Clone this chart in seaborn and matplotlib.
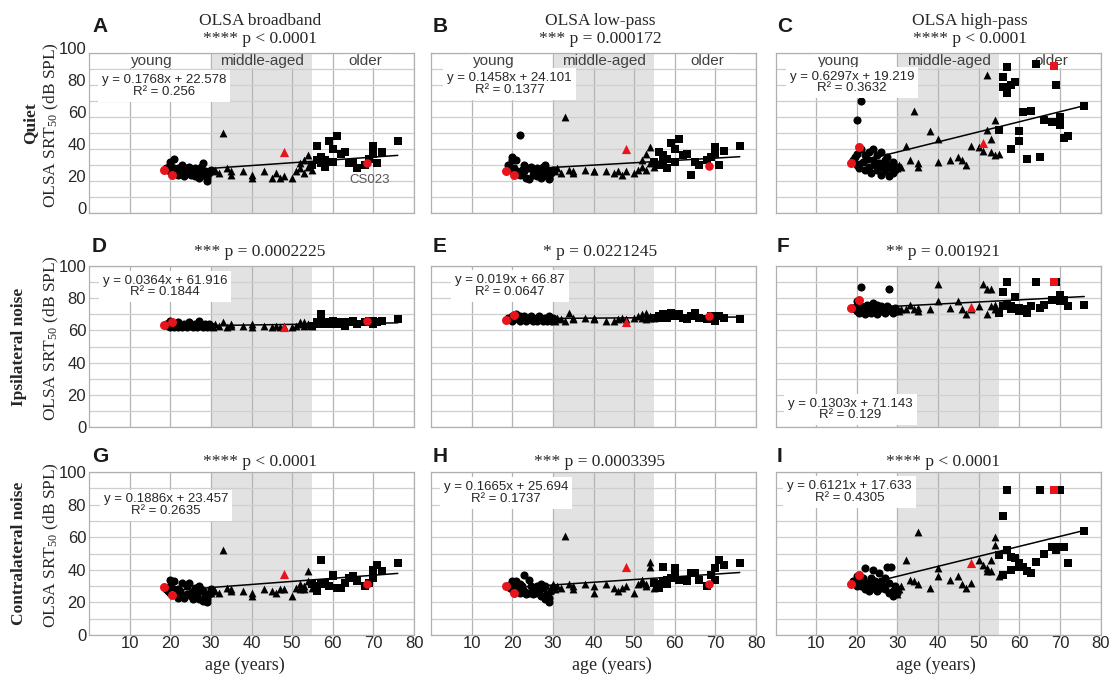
import numpy as np
import pandas as pd
import matplotlib
matplotlib.use('Agg')
import matplotlib.pyplot as plt
import matplotlib.transforms as mtransforms
from matplotlib.patches import Rectangle
import seaborn as sns

sns.set_style('white')
plt.rcParams['font.family'] = ['Liberation Sans', 'DejaVu Sans']
plt.rcParams['mathtext.default'] = 'regular'

# ---------------- data ----------------
young_age = [19, 19.5, 20, 20, 20, 20.5, 21, 21, 21.5, 22, 22, 22.5, 23, 23, 23.5, 24, 24, 24.5,
             25, 25, 25.5, 26, 26, 26.5, 27, 27, 27.5, 28, 28, 28.5, 29, 29, 29.5, 30]
mid_age = [30, 30.5, 31, 32, 33, 34, 35, 35, 38, 40, 40, 43, 45, 46, 47, 48, 50, 51, 52, 52, 53, 53, 54, 54, 55]
old_age = [55, 56, 56, 57, 57, 58, 58, 59, 60, 60, 61, 62, 63, 64, 65, 66, 68, 69, 70, 70, 71, 72, 76]
red_age = [18.5, 20.5, 48, 68.5]
red_age_C = [18.5, 20.5, 51, 68.5]

A_young = [28, 27, 30, 26, 32, 29, 34, 27, 25, 28, 24, 27, 30, 26, 23, 28, 25, 29, 27, 24, 26, 28, 23, 25, 27, 22, 29, 31, 24, 26, 20, 22, 25, 27]
A_mid = [27, 26, 27, 25, 50, 28, 26, 24, 26, 24, 22, 26, 22, 25, 22, 23, 22, 26, 28, 31, 25, 33, 29, 36, 27]
A_old = [30, 42, 33, 31, 35, 29, 33, 45, 32, 40, 48, 37, 38, 31, 32, 28, 30, 34, 42, 37, 31, 38, 45]
A_red = [27, 24, 38, 31.5]

B_young = [30, 29, 33, 27, 35, 28, 33, 26, 25, 49, 24, 27, 30, 26, 22, 28, 21, 29, 27, 24, 26, 28, 23, 25, 27, 22, 29, 30, 24, 26, 21, 22, 25, 27]
B_mid = [27, 26, 28, 25, 60, 27, 26, 25, 27, 26, 26, 26, 25, 26, 24, 26, 25, 27, 29, 33, 27, 37, 31, 41, 29]
B_old = [32, 38, 30, 33, 36, 28, 34, 44, 32, 40, 46, 36, 37, 24, 32, 30, 33, 35, 41, 37, 30, 39, 42]
B_red = [26, 24, 40, 29.6]

C_young = [33, 35, 58, 37, 30, 28, 70, 40, 32, 36, 27, 34, 38, 29, 25, 33, 40, 30, 36, 27, 31, 38, 24, 29, 33, 26, 35, 30, 23, 28, 25, 32, 27, 29]
C_mid = [28, 30, 29, 42, 33, 64, 29, 31, 51, 46, 32, 33, 35, 33, 30, 42, 41, 39, 52, 86, 38, 46, 58, 36, 37]
C_old = [52, 85, 79, 91, 75, 80, 40, 82, 51, 45, 63, 34, 64, 93, 35, 58, 57, 80, 60, 55, 47, 48, 67]
C_red = [31.5, 41, 43.5, 91.7]

D_young = [64, 63, 66, 62, 65, 63, 64, 62, 63, 65, 62, 64, 63, 62, 64, 63, 62, 65, 63, 64, 62, 63, 64, 62, 66, 63, 64, 62, 63, 64, 62, 63, 64, 63]
D_mid = [63, 62, 64, 63, 65, 62, 64, 63, 63, 64, 62, 63, 62, 63, 62, 63, 62, 63, 64, 65, 63, 65, 64, 64, 63]
D_old = [63, 65, 64, 68, 70, 64, 65, 65, 64, 66, 64, 65, 63, 65, 66, 64, 65, 66, 66, 64, 65, 66, 67]
D_red = [63.4, 65.4, 62, 66]

E_young = [68, 67, 69, 66, 68, 67, 70, 68, 67, 69, 66, 68, 67, 69, 66, 68, 67, 69, 68, 66, 67, 68, 66, 69, 67, 68, 66, 67, 68, 66, 69, 67, 66, 68]
E_mid = [67, 66, 68, 67, 66, 71, 68, 67, 68, 67, 68, 66, 66, 67, 68, 67, 68, 69, 68, 70, 67, 71, 69, 68, 68]
E_old = [68, 69, 68, 70, 69, 70, 68, 71, 69, 70, 70, 68, 67, 69, 71, 68, 67, 69, 68, 66, 69, 68, 67]
E_red = [66.5, 69.6, 65.4, 69]

F_young = [74, 73, 76, 72, 78, 71, 87, 75, 73, 74, 70, 76, 73, 75, 71, 77, 72, 74, 70, 76, 73, 75, 72, 74, 71, 73, 75, 86, 74, 72, 73, 71, 74, 72]
F_mid = [74, 72, 73, 73, 76, 73, 72, 74, 73, 89, 78, 74, 78, 73, 70, 73, 75, 89, 86, 70, 86, 75, 73, 76, 72]
F_old = [71, 84, 75, 90, 76, 73, 75, 81, 72, 74, 73, 71, 75, 90, 74, 76, 79, 90, 82, 78, 79, 75, 76]
F_red = [73.7, 79, 74.7, 90]

G_young = [28, 27, 30, 26, 34, 29, 33, 27, 25, 28, 23, 27, 32, 24, 23, 30, 25, 32, 24, 26, 22, 29, 26, 25, 30, 22, 28, 27, 21, 25, 20, 22, 25, 28]
G_mid = [26, 28, 27, 26, 52, 29, 28, 27, 27, 26, 24, 28, 27, 26, 28, 28, 24, 29, 28, 31, 28, 30, 33, 39, 29]
G_old = [31, 27, 30, 46, 32, 32, 31, 30, 37, 36, 29, 29, 32, 35, 36, 33, 30, 32, 40, 35, 43, 39, 44]
G_red = [29.3, 24.5, 37.4, 31.5]

H_young = [30, 29, 33, 28, 32, 30, 33, 27, 28, 31, 26, 30, 37, 27, 25, 34, 26, 30, 27, 25, 28, 30, 26, 27, 31, 24, 29, 30, 22, 25, 20, 23, 27, 29]
H_mid = [31, 28, 30, 29, 61, 31, 30, 28, 31, 30, 26, 31, 29, 27, 29, 30, 26, 31, 32, 34, 31, 30, 42, 45, 29]
H_old = [32, 29, 31, 42, 33, 31, 34, 35, 41, 36, 34, 34, 33, 38, 38, 34, 30, 37, 41, 34, 46, 43, 44]
H_red = [30.3, 26, 42, 31]

I_young = [33, 31, 36, 30, 34, 37, 32, 30, 35, 28, 41, 32, 30, 27, 35, 29, 40, 33, 31, 27, 38, 29, 33, 30, 28, 35, 42, 26, 32, 42, 24, 27, 30, 26]
I_mid = [25, 28, 30, 46, 34, 33, 63, 31, 29, 41, 36, 34, 36, 31, 29, 32, 46, 43, 41, 39, 39, 46, 60, 55, 36]
I_old = [49, 37, 73, 89, 52, 48, 40, 47, 42, 44, 42, 39, 38, 45, 89, 50, 54, 52, 89, 54, 54, 44, 64]
I_red = [31.3, 36.8, 44, 89]

slopes = [0.1768, 0.1458, 0.6297, 0.0364, 0.019, 0.1303, 0.1886, 0.1665, 0.6121]
intercepts = [22.578, 24.101, 19.219, 61.916, 66.87, 71.143, 23.457, 25.694, 17.633]
eq_labels = ['y = 0.1768x + 22.578\nR² = 0.256', 'y = 0.1458x + 24.101\nR² = 0.1377',
             'y = 0.6297x + 19.219\nR² = 0.3632', 'y = 0.0364x + 61.916\nR² = 0.1844',
             'y = 0.019x + 66.87\nR² = 0.0647', 'y = 0.1303x + 71.143\nR² = 0.129',
             'y = 0.1886x + 23.457\nR² = 0.2635', 'y = 0.1665x + 25.694\nR² = 0.1737',
             'y = 0.6121x + 17.633\nR² = 0.4305']
eq_pos = [(18.5, 79.5), (19.3, 80.5), (18.8, 81.5), (18.7, 87.4), (19.5, 87.6),
          (18.4, 11.0), (18.9, 79.6), (18.4, 87.0), (18.2, 87.7)]
p_labels = ['**** p < 0.0001', '*** p = 0.000172', '**** p < 0.0001',
            '*** p = 0.0002225', '* p = 0.0221245', '** p = 0.001921',
            '**** p < 0.0001', '*** p = 0.0003395', '**** p < 0.0001']
panel_letters = ['A', 'B', 'C', 'D', 'E', 'F', 'G', 'H', 'I']
col_titles = ['OLSA broadband', 'OLSA low-pass', 'OLSA high-pass']
row_titles = ['Quiet', 'Ipsilateral noise', 'Contralateral noise']
group_labels = ['young', 'middle-aged', 'older']
line_x = [19, 76]

young_vals = [A_young, B_young, C_young, D_young, E_young, F_young, G_young, H_young, I_young]
mid_vals = [A_mid, B_mid, C_mid, D_mid, E_mid, F_mid, G_mid, H_mid, I_mid]
old_vals = [A_old, B_old, C_old, D_old, E_old, F_old, G_old, H_old, I_old]
red_vals = [A_red, B_red, C_red, D_red, E_red, F_red, G_red, H_red, I_red]

# ---------------- layout ----------------
W, H = 1112, 680
fig = plt.figure(figsize=(W / 100, H / 100), dpi=100)
col_left = [89, 431, 775.5]
ax_w = 325
row_top = [53, 266, 472]
ax_h = [160, 161, 163]
title_x = [260, 600, 970]
p_x = [[260, 600, 970], [260, 600, 943], [260, 600, 943]]
p_base = [43, 256, 466]
letter_x = [92, 433, 777]
letter_y = [26, 247, 456]
xlabel_x = [245, 612, 936]

SERIF = ['Liberation Serif', 'DejaVu Serif']
SANS = ['Liberation Sans', 'DejaVu Sans']
RED = '#e8141c'
SPAN = '#e2e2e2'


def fx(px):
    return px / W


def fy(py):
    return 1 - py / H


for i in range(9):
    r, c = divmod(i, 3)
    left, top, h = col_left[c], row_top[r], ax_h[r]
    ax = fig.add_axes([fx(left), fy(top + h), ax_w / W, h / H])
    ax.set_xlim(0, 80)
    ax.set_ylim(0, 100)
    ax.axvspan(30, 55, color=SPAN, lw=0, zorder=0.2)
    ax.set_axisbelow(True)
    ax.set_xticks(range(10, 81, 10))
    ax.set_yticks(range(0, 101, 20))
    ax.set_yticks(range(10, 100, 20), minor=True)
    ax.grid(which='both', axis='y', color='#cfcfcf', lw=0.9)
    ax.grid(which='major', axis='x', color='#b4b4b4', lw=0.9)
    ax.tick_params(which='both', length=0, labelsize=12, pad=2)
    for sp in ax.spines.values():
        sp.set_color('#b0b0b0')
        sp.set_linewidth(0.9)
    if c != 0:
        ax.set_yticklabels([])
    if r != 2:
        ax.set_xticklabels([])
    else:
        ax.tick_params(axis='x', pad=1)
    if c == 0 and r == 0:
        off = mtransforms.ScaledTranslation(0, 5 / 100, fig.dpi_scale_trans)
        for lab in ax.get_yticklabels():
            lab.set_transform(lab.get_transform() + off)

    # top-row group band labels
    if r == 0:
        band = [(9.3, 22.0, 'white'), (30.3, 54.7, SPAN), (63.0, 75.0, 'white')]
        for (x0, x1, fc) in band:
            ax.add_patch(Rectangle((x0, 90.5), x1 - x0, 9.2, fc=fc, ec='none', zorder=0.8))
        for gx, lab in zip([15.5, 42.7, 68.0], group_labels):
            ax.text(gx, 95, lab, ha='center', va='center', fontsize=11, color='#404040',
                    family=SANS, zorder=0.9)

    # scatter points
    sns.scatterplot(x=young_age, y=young_vals[i], marker='o', color='black', s=34, linewidth=0,
                    ax=ax, zorder=2, legend=False)
    sns.scatterplot(x=mid_age, y=mid_vals[i], marker='^', color='black', s=32, linewidth=0,
                    ax=ax, zorder=2, legend=False)
    sns.scatterplot(x=old_age, y=old_vals[i], marker='s', color='black', s=32, linewidth=0,
                    ax=ax, zorder=2, legend=False)
    rx = red_age_C if i == 2 else red_age
    rv = red_vals[i]
    last_marker = 's' if c == 2 else 'o'
    sns.scatterplot(x=rx[:2], y=rv[:2], marker='o', color=RED, s=42, linewidth=0,
                    ax=ax, zorder=4, legend=False)
    sns.scatterplot(x=[rx[2]], y=[rv[2]], marker='^', color=RED, s=44, linewidth=0,
                    ax=ax, zorder=4, legend=False)
    sns.scatterplot(x=[rx[3]], y=[rv[3]], marker=last_marker, color=RED, s=38, linewidth=0,
                    ax=ax, zorder=4, legend=False)

    # regression line
    lx = np.array(line_x, dtype=float)
    ax.plot(lx, slopes[i] * lx + intercepts[i], color='black', lw=1.1, zorder=3)

    # equation box
    ex, ey = eq_pos[i]
    ax.text(ex, ey, eq_labels[i], ha='center', va='center', multialignment='center',
            fontsize=9.5, linespacing=0.95, family=SANS, zorder=5,
            bbox=dict(boxstyle='square,pad=0.3', fc='white', ec='none'))

    if i == 0:
        ax.text(69.2, 20.6, 'CS023', ha='center', va='center', fontsize=9.5,
                color='#595959', family=SANS, zorder=5)

    ax.set_xlabel('')
    ax.set_ylabel('')

    # panel letter and p value
    fig.text(fx(letter_x[c]), fy(letter_y[r]), panel_letters[i], ha='left', va='center',
             fontsize=15, fontweight='bold', family=SANS, color='#1a1a1a')
    fig.text(fx(p_x[r][c]), fy(p_base[r]), p_labels[i], ha='center', va='baseline',
             fontsize=12.5, family=SERIF)

# column titles
for c in range(3):
    fig.text(fx(title_x[c]), fy(25), col_titles[c], ha='center', va='baseline',
             fontsize=12.5, family=SERIF)
    fig.text(fx(xlabel_x[c]), fy(665), 'age (years)', ha='center', va='center',
             fontsize=13, family=SERIF)

# row labels
row_label_x = [30, 19, 19]
for r in range(3):
    yc = row_top[r] + ax_h[r] / 2
    fig.text(fx(row_label_x[r]), fy(yc - 10 if r == 0 else yc), row_titles[r], rotation=90,
             ha='center', va='center', fontsize=12.5, fontweight='bold', family=SERIF)
    fig.text(fx(51), fy(yc - 8), 'OLSA SRT$_{50}$ (dB SPL)', rotation=90, ha='center',
             va='center', fontsize=12.5, family=SERIF)

fig.savefig('out.png', dpi=100, facecolor='white')
